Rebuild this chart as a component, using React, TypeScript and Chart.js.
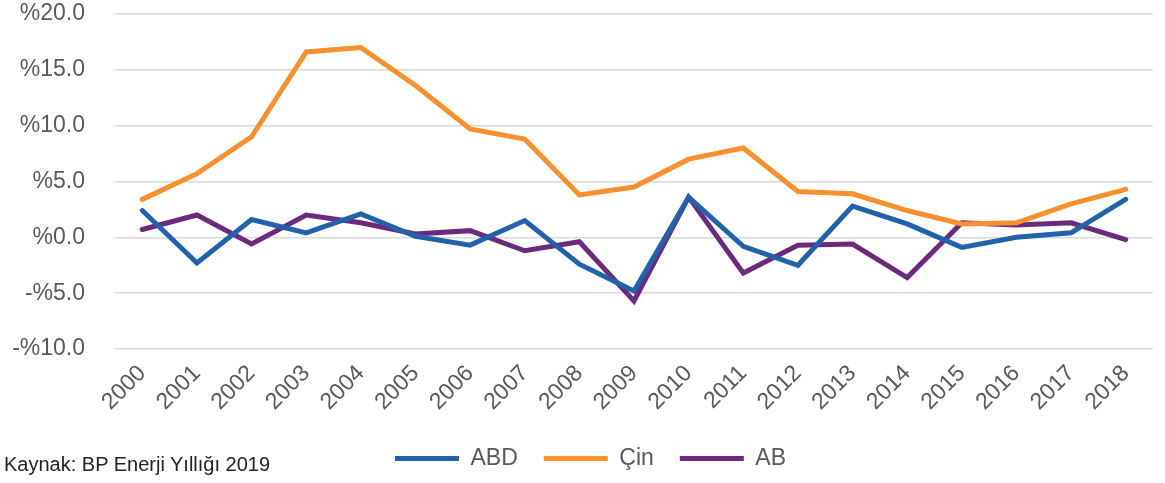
import React, { useEffect, useRef } from "react";
import { Chart, registerables } from "chart.js";

Chart.register(...registerables);

const years = ["2000","2001","2002","2003","2004","2005","2006","2007","2008","2009","2010","2011","2012","2013","2014","2015","2016","2017","2018"];
const abd = [2.4, -2.3, 1.6, 0.4, 2.1, 0.1, -0.7, 1.5, -2.4, -4.8, 3.6, -0.8, -2.5, 2.8, 1.2, -0.9, 0.0, 0.4, 3.4];
const cin = [3.4, 5.7, 9.0, 16.6, 17.0, 13.6, 9.7, 8.8, 3.8, 4.5, 7.0, 8.0, 4.1, 3.9, 2.4, 1.2, 1.3, 3.0, 4.3];
const ab = [0.7, 2.0, -0.6, 2.0, 1.3, 0.3, 0.6, -1.2, -0.4, -5.7, 3.6, -3.2, -0.7, -0.6, -3.6, 1.3, 1.1, 1.3, -0.2];
const seriesNames = ["ABD", "Çin", "AB"];
const sourceText = "Kaynak: BP Enerji Yıllığı 2019";

const FONT = "'Liberation Sans', Arial, sans-serif";

const shiftLegend = {
  id: "shiftLegend",
  afterLayout(chart: any) {
    const lg = chart.legend;
    if (lg) {
      lg.left += 14;
      lg.right += 14;
    }
  },
};

export default function App() {
  const ref = useRef<HTMLCanvasElement | null>(null);
  useEffect(() => {
    if (!ref.current) return;
    const mk = (label: string, data: number[], color: string) => ({
      label,
      data,
      borderColor: color,
      backgroundColor: color,
      borderWidth: 5,
      pointRadius: 0,
      pointHoverRadius: 0,
      tension: 0,
      borderCapStyle: "round" as const,
      borderJoinStyle: "miter" as const,
    });
    const chart = new Chart(ref.current, {
      type: "line",
      data: {
        labels: years,
        datasets: [
          mk(seriesNames[0], abd, "#2262AB"),
          mk(seriesNames[1], cin, "#F7902F"),
          mk(seriesNames[2], ab, "#6B2A7B"),
        ],
      },
      plugins: [shiftLegend],
      options: {
        animation: false,
        responsive: false,
        maintainAspectRatio: false,
        layout: { padding: { left: 0, right: 12, top: 14, bottom: 3 } },
        plugins: {
          tooltip: { enabled: false },
          legend: {
            position: "bottom",
            labels: {
              usePointStyle: true,
              pointStyle: "line",
              pointStyleWidth: 64,
              boxHeight: 23,
              color: "#595959",
              padding: 26,
              font: { family: FONT, size: 23 },
            },
          },
        },
        scales: {
          x: {
            offset: true,
            grid: { display: false, drawTicks: false },
            border: { display: false },
            ticks: {
              color: "#595959",
              font: { family: FONT, size: 23 },
              maxRotation: 45,
              minRotation: 45,
              autoSkip: false,
              padding: 11,
            },
            afterFit: (s: any) => { s.height = 72; },
          },
          y: {
            min: -10,
            max: 20,
            grid: { color: "#D9D9D9", lineWidth: 1.5, drawTicks: false },
            border: { display: false },
            ticks: {
              stepSize: 5,
              padding: 30,
              color: "#595959",
              font: { family: FONT, size: 23 },
              callback: (v: any) => {
                const n = Number(v);
                return (n < 0 ? "-%" : "%") + Math.abs(n).toFixed(1);
              },
            },
            afterFit: (s: any) => {
              s.width = 115;
              s.paddingTop = 0;
              s.paddingBottom = 0;
            },
          },
        },
      },
    });
    return () => chart.destroy();
  }, []);
  return (
    <div style={{ position: "fixed", left: 0, top: 0, width: 1165, height: 483, background: "#fff" }}>
      <canvas ref={ref} width={1165} height={483} style={{ width: 1165, height: 483 }} />
      <div style={{ position: "absolute", left: 4, top: 454, fontFamily: FONT, fontSize: 20, lineHeight: 1, color: "#222", whiteSpace: "nowrap" }}>
        {sourceText}
      </div>
    </div>
  );
}
